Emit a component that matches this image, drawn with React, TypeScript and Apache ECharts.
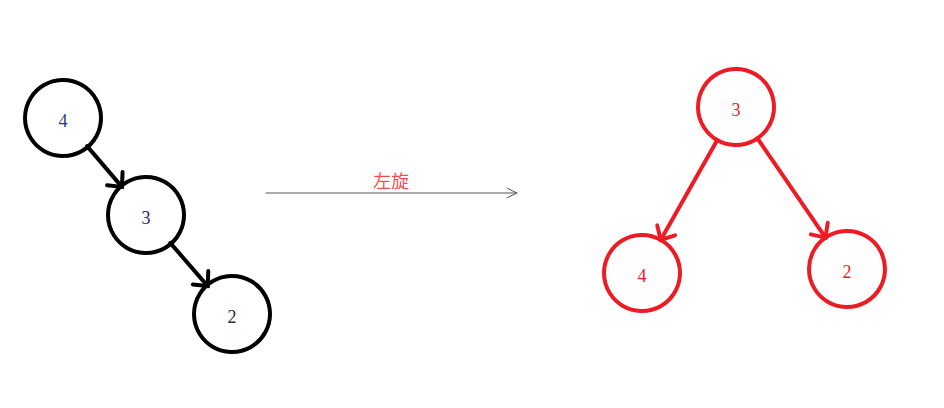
import React, { useEffect, useRef } from "react";
import * as echarts from "echarts";

const leftLabels = ["4", "3", "2"];
const leftX = [63, 146, 232];
const leftY = [118, 215, 314];
const leftTextColors = ["#1f3b8f", "#3a1f55", "#2a2a2a"];
const rightLabels = ["3", "4", "2"];
const rightX = [736, 642, 847];
const rightY = [107, 273, 269];
const leftEdges = [[0, 1], [1, 2]];
const rightEdges = [[0, 1], [0, 2]];
const midArrow = [[266, 193, 517, 193]];
const midText = "左旋";

const BLACK = "#000000";
const RED = "#ed1c24";
const R = 39;

function edgeData(xs: number[], ys: number[], edges: number[][]) {
  return edges.map(([a, b]) => [xs[a], ys[a], xs[b], ys[b]]);
}

function makeEdgeSeries(data: number[][], color: string, trim: number, width: number, headLen: number, headAng: number) {
  return {
    type: "custom",
    coordinateSystem: "cartesian2d",
    data,
    silent: true,
    renderItem: (params: any, api: any) => {
      const p1 = api.coord([api.value(0), api.value(1)]);
      const p2 = api.coord([api.value(2), api.value(3)]);
      const dx = p2[0] - p1[0], dy = p2[1] - p1[1];
      const L = Math.sqrt(dx * dx + dy * dy);
      const ux = dx / L, uy = dy / L;
      const s = [p1[0] + ux * trim, p1[1] + uy * trim];
      const e = [p2[0] - ux * trim, p2[1] - uy * trim];
      const ang = Math.atan2(uy, ux);
      const h1 = [e[0] - headLen * Math.cos(ang - headAng), e[1] - headLen * Math.sin(ang - headAng)];
      const h2 = [e[0] - headLen * Math.cos(ang + headAng), e[1] - headLen * Math.sin(ang + headAng)];
      return {
        type: "group",
        children: [
          { type: "line", shape: { x1: s[0], y1: s[1], x2: e[0], y2: e[1] }, style: { stroke: color, lineWidth: width, lineCap: "round" } },
          { type: "polyline", shape: { points: [h1, e, h2] }, style: { stroke: color, fill: "none", lineWidth: width, lineJoin: "miter", lineCap: "round" } },
        ],
      };
    },
  };
}

function nodeSeries(labels: string[], xs: number[], ys: number[], color: string, textColors: string[]) {
  return {
    type: "scatter",
    symbol: "circle",
    symbolSize: R * 2 - 2,
    silent: true,
    data: labels.map((l, i) => ({
      value: [xs[i], ys[i]],
      name: l,
      label: { color: textColors[i] },
    })),
    itemStyle: { color: "rgba(0,0,0,0)", borderColor: color, borderWidth: 4, opacity: 1 },
    label: {
      show: true,
      position: "inside",
      formatter: (p: any) => p.name,
      fontFamily: "Liberation Serif",
      fontSize: 18,
      offset: [0, 3],
    },
    z: 3,
  };
}

export default function App() {
  const ref = useRef<HTMLDivElement>(null);
  useEffect(() => {
    document.body.style.margin = "0";
    const chart = echarts.init(ref.current!, null, { renderer: "svg" });
    chart.setOption({
      animation: false,
      backgroundColor: "#ffffff",
      grid: { left: 0, right: 0, top: 0, bottom: 0 },
      xAxis: { type: "value", min: 0, max: 944, show: false },
      yAxis: { type: "value", min: 0, max: 408, inverse: true, show: false },
      series: [
        makeEdgeSeries(edgeData(leftX, leftY, leftEdges), BLACK, R - 2, 4, 15, 0.75),
        makeEdgeSeries(edgeData(rightX, rightY, rightEdges), RED, R - 1, 4, 15, 0.75),
        makeEdgeSeries(midArrow, "#555555", 0, 1, 11, 0.45),
        nodeSeries(leftLabels, leftX, leftY, BLACK, leftTextColors),
        nodeSeries(rightLabels, rightX, rightY, RED, [RED, RED, RED]),
        {
          type: "scatter",
          symbolSize: 0,
          silent: true,
          data: [{ value: [391, 180], name: midText }],
          label: {
            show: true,
            position: "inside",
            formatter: midText,
            color: RED,
            fontFamily: "Noto Sans CJK SC",
            fontSize: 18,
          },
        },
      ],
    });
    return () => chart.dispose();
  }, []);
  return <div ref={ref} style={{ width: 944, height: 408 }} />;
}
